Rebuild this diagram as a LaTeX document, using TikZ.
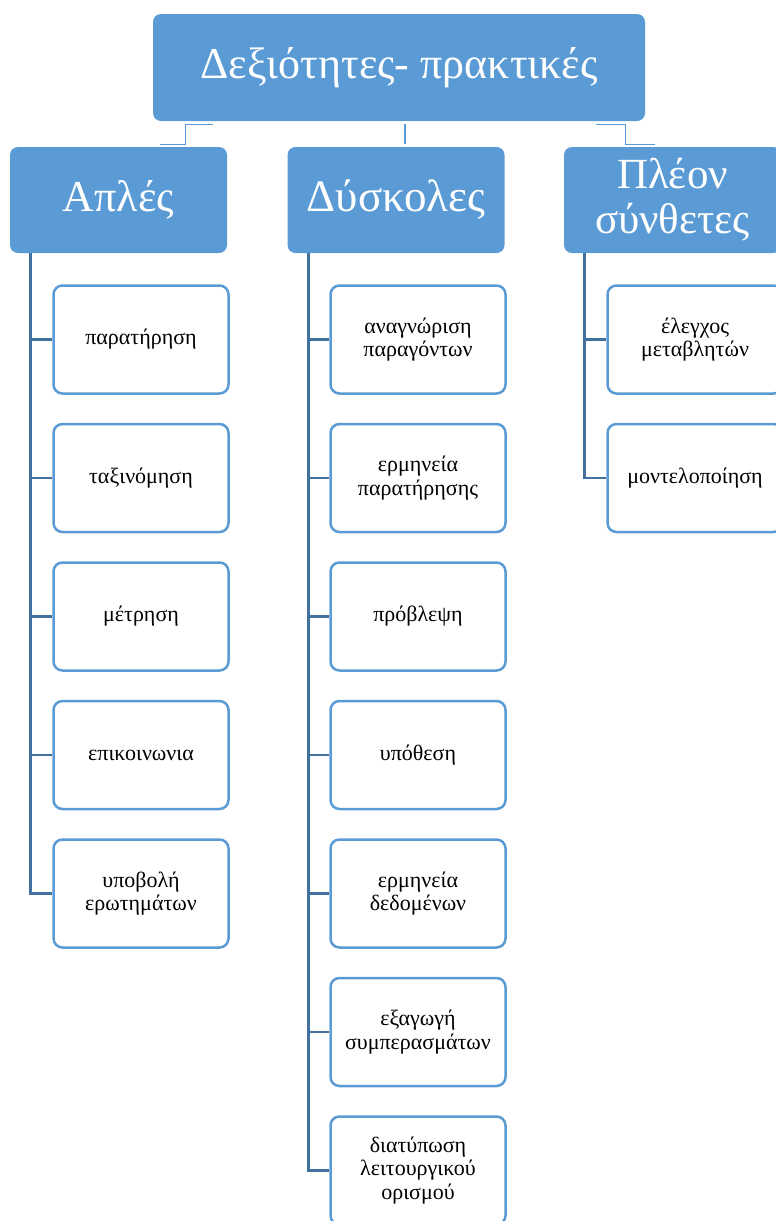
\documentclass[tikz,border=0pt]{standalone}
\usepackage{fontspec}
\setmainfont{Liberation Serif}
\usetikzlibrary{positioning}
\definecolor{boxblue}{HTML}{5B9BD5}
\definecolor{busblue}{HTML}{41719C}

\begin{document}
\begin{tikzpicture}[
  x=1pt, y=-1pt,
  top/.style={rectangle, rounded corners=8pt, fill=boxblue, text=white, align=center, inner sep=0pt, font=\fontsize{44}{50}\selectfont},
  group/.style={rectangle, rounded corners=8pt, fill=boxblue, text=white, align=center, inner sep=0pt, minimum width=217pt, minimum height=106pt},
  item/.style={rectangle, rounded corners=9pt, draw=boxblue, line width=2.5pt, fill=white, align=center, inner sep=0pt, minimum width=175pt, minimum height=108pt, font=\fontsize{22}{23.5}\selectfont},
  link/.style={draw=boxblue, line width=1.3pt},
  bus/.style={draw=busblue, line width=2.8pt}
]
\useasboundingbox (0,0) rectangle (776,1221);
\clip (0,0) rectangle (776,1221);
\def\xSimple{118.5}
\def\xHard{396}
\def\xComplex{672.5}
\def\xItemA{141}
\def\xItemB{418}
\def\xItemC{695}
\def\yRoot{67.5}
\def\yGroup{200}
\node[top, minimum width=492pt, minimum height=107pt] (root) at (399, \yRoot) {Δεξιότητες- πρακτικές};
\node[group, font=\fontsize{44}{50}\selectfont] (simple) at (\xSimple, \yGroup) {Απλές};
\node[group, font=\fontsize{45}{50}\selectfont] (hard) at (\xHard, \yGroup) {Δύσκολες};
\node[group, font=\fontsize{43}{45}\selectfont] (complex) at (\xComplex, \yGroup) {Πλέον\\σύνθετες};
% simple skills
\node[item] (s1) at (\xItemA, 339.5) {παρατήρηση};
\node[item] (s2) at (\xItemA, 478) {ταξινόμηση};
\node[item] (s3) at (\xItemA, 616.5) {μέτρηση};
\node[item] (s4) at (\xItemA, 755) {επικοινωνια};
\node[item] (s5) at (\xItemA, 893.5) {υποβολή\\ερωτημάτων};
% harder skills
\node[item] (h1) at (\xItemB, 339.5) {αναγνώριση\\παραγόντων};
\node[item] (h2) at (\xItemB, 478) {ερμηνεία\\παρατήρησης};
\node[item] (h3) at (\xItemB, 616.5) {πρόβλεψη};
\node[item] (h4) at (\xItemB, 755) {υπόθεση};
\node[item] (h5) at (\xItemB, 893.5) {ερμηνεία\\δεδομένων};
\node[item] (h6) at (\xItemB, 1032) {εξαγωγή\\συμπερασμάτων};
\node[item] (h7) at (\xItemB, 1170.5) {διατύπωση\\λειτουργικού\\ορισμού};
% complex skills
\node[item] (c1) at (\xItemC, 339.5) {έλεγχος\\μεταβλητών};
\node[item] (c2) at (\xItemC, 478) {μοντελοποίηση};
% root to groups
\draw[link] ([shift={(60,3)}]root.south west) -- ++(-27,0) -- ++(0,20) -- ++(-26,0);
\draw[link] ([shift={(6,3)}]root.south) -- ++(0,20);
\draw[link] ([shift={(-49,3)}]root.south east) -- ++(29,0) -- ++(0,20) -- ++(30,0);
% groups to items
\foreach \i in {1,...,5} \draw[bus] ([xshift=20.5pt]simple.south west) |- (s\i.west);
\foreach \i in {1,...,7} \draw[bus] ([xshift=21pt]hard.south west) |- (h\i.west);
\foreach \i in {1,2} \draw[bus] ([xshift=21pt]complex.south west) |- (c\i.west);
\end{tikzpicture}
\end{document}
